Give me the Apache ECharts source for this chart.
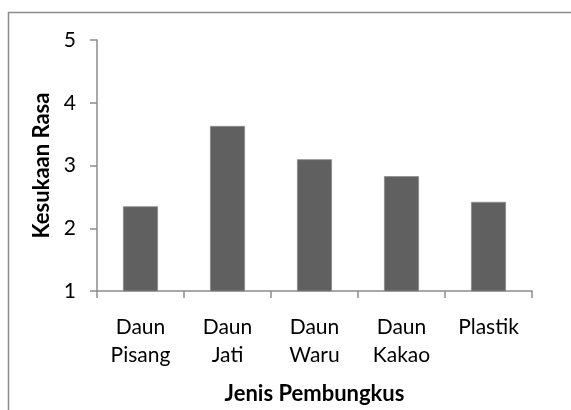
<!DOCTYPE html>
<html>
<head>
<meta charset="utf-8">
<script src="https://cdn.jsdelivr.net/npm/echarts@6/dist/echarts.min.js"></script>
<style>
  html, body { margin: 0; padding: 0; background: #fff; }
  #chart { width: 571px; height: 410px; }
</style>
</head>
<body>
<div id="chart"></div>
<script>
// Wrapping types (x categories) and mean preference score per type
const categories = ['Daun\nPisang', 'Daun\nJati', 'Daun\nWaru', 'Daun\nKakao', 'Plastik'];
const kesukaan = [2.35, 3.63, 3.10, 2.83, 2.42];
const yTicks = [1, 2, 3, 4, 5];

const FONT = 'Lato';
const axisGray = '#8c8c8c';

const chart = echarts.init(document.getElementById('chart'), null, { renderer: 'canvas' });

chart.setOption({
  animation: false,
  backgroundColor: '#ffffff',
  textStyle: { fontFamily: FONT, color: '#000' },
  graphic: [{
    type: 'rect',
    shape: { x: 8.5, y: 12.5, width: 600, height: 450 },
    style: { fill: 'none', stroke: axisGray, lineWidth: 1.5 },
    silent: true,
    z: -1
  }],
  grid: { left: 97, right: 39, top: 40, bottom: 117, containLabel: false },
  xAxis: {
    type: 'category',
    data: categories,
    name: 'Jenis Pembungkus',
    nameLocation: 'middle',
    nameGap: 92,
    nameTextStyle: { fontFamily: FONT, fontSize: 22, fontWeight: 'bold', color: '#000' },
    axisLine: { lineStyle: { color: axisGray, width: 1.5 } },
    axisTick: { show: true, length: 7, alignWithLabel: false, lineStyle: { color: axisGray, width: 1.5 } },
    axisLabel: { fontFamily: FONT, fontSize: 21, color: '#000', margin: 22, lineHeight: 28, interval: 0 }
  },
  yAxis: {
    type: 'value',
    min: yTicks[0],
    max: yTicks[yTicks.length - 1],
    interval: 1,
    name: 'Kesukaan Rasa',
    nameLocation: 'middle',
    nameGap: 39,
    nameRotate: 90,
    nameTextStyle: { fontFamily: FONT, fontSize: 22, fontWeight: 'bold', color: '#000' },
    axisLine: { show: true, lineStyle: { color: axisGray, width: 1.5 } },
    axisTick: { show: true, length: 7, lineStyle: { color: axisGray, width: 1.5 } },
    splitLine: { show: false },
    axisLabel: { fontFamily: FONT, fontSize: 21, color: '#000', margin: 21 }
  },
  series: [{
    type: 'bar',
    data: kesukaan,
    barWidth: 35,
    itemStyle: { color: '#606060', borderColor: '#8a8a8a', borderWidth: 0.8 }
  }]
});
</script>
</body>
</html>
